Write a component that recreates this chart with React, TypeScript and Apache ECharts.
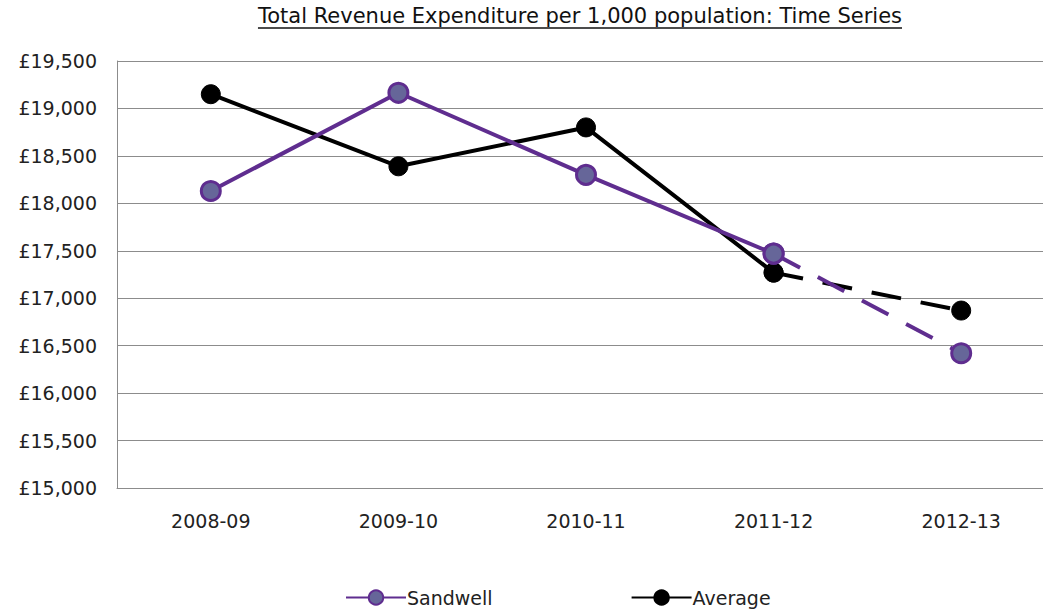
import React, { useEffect, useRef } from "react";
import * as echarts from "echarts";

const categories = ["2008-09", "2009-10", "2010-11", "2011-12", "2012-13"];
const sandwell = [18130, 19165, 18300, 17470, 16420];
const average = [19150, 18390, 18800, 17270, 16870];
const solidCount = 4; // points 0..3 actual, last segment projected (dashed)
const yTicks = { min: 15000, max: 19500, interval: 500 };
const titleText = "Total Revenue Expenditure per 1,000 population: Time Series";

const PURPLE = "#5f2d8f";
const MARKER_FILL = "#666699";
const FONT = "DejaVu Sans";
const CHART_W = 1070;

function solidPart(arr: number[]) {
  return arr.map((v, i) => (i < solidCount ? v : null));
}
function dashedPart(arr: number[]) {
  return arr.map((v, i) => (i >= solidCount - 1 ? v : null));
}

export default function App() {
  const ref = useRef<HTMLDivElement>(null);
  useEffect(() => {
    if (!ref.current) return;
    const chart = echarts.init(ref.current, null, { renderer: "svg" });
    const fmt = (v: number) => "£" + v.toLocaleString("en-GB");
    const common = {
      type: "line",
      symbol: "circle",
      symbolSize: 19,
      connectNulls: false,
    };
    const titleFont = `21px "${FONT}"`;
    const tw = (echarts.format as any).getTextRect?.(titleText, titleFont)?.width;
    const titleWidth = typeof tw === "number" ? tw : 645;
    const cx = 580;
    chart.setOption({
      animation: false,
      backgroundColor: "#ffffff",
      graphic: [
        {
          type: "text",
          x: cx,
          y: 5,
          style: {
            text: titleText,
            font: titleFont,
            fill: "#111",
            align: "center",
            verticalAlign: "top",
          },
        },
        {
          type: "line",
          shape: { x1: cx - titleWidth / 2, y1: 28, x2: cx + titleWidth / 2, y2: 28 },
          style: { stroke: "#111", lineWidth: 1.5 },
        },
      ],
      legend: {
        data: ["Sandwell", "Average"],
        left: 345,
        top: 588,
        padding: 0,
        itemWidth: 60,
        itemHeight: 18,
        itemGap: 138,
        textStyle: { fontFamily: FONT, fontSize: 19, color: "#222", padding: [0, 0, 0, -4] },
      },
      grid: { left: 117, right: CHART_W - 117 - 938, top: 61, bottom: 127, containLabel: false },
      xAxis: {
        type: "category",
        data: categories,
        boundaryGap: true,
        axisLine: { show: true, lineStyle: { color: "#8c8c8c", width: 1 } },
        axisTick: { show: false },
        axisLabel: { fontFamily: FONT, fontSize: 19, color: "#222", margin: 23 },
      },
      yAxis: {
        type: "value",
        min: yTicks.min,
        max: yTicks.max,
        interval: yTicks.interval,
        axisLine: { show: true, lineStyle: { color: "#8c8c8c", width: 1 } },
        axisTick: { show: false },
        splitLine: { show: true, lineStyle: { color: "#8c8c8c", width: 1 } },
        axisLabel: { fontFamily: FONT, fontSize: 19, color: "#222", margin: 20, formatter: fmt },
      },
      series: [
        {
          ...common,
          name: "Average",
          data: solidPart(average),
          lineStyle: { color: "#000", width: 4 },
          itemStyle: { color: "#000", borderColor: "#000", borderWidth: 1 },
          z: 2,
        },
        {
          ...common,
          name: "Average projected",
          data: dashedPart(average),
          lineStyle: { color: "#000", width: 4, type: [30, 20] },
          itemStyle: { color: "#000", borderColor: "#000", borderWidth: 1 },
          z: 2,
        },
        {
          ...common,
          name: "Sandwell",
          data: solidPart(sandwell),
          lineStyle: { color: PURPLE, width: 4 },
          itemStyle: { color: MARKER_FILL, borderColor: PURPLE, borderWidth: 3 },
          z: 3,
        },
        {
          ...common,
          name: "Sandwell projected",
          data: dashedPart(sandwell),
          lineStyle: { color: PURPLE, width: 4, type: [30, 20] },
          itemStyle: { color: MARKER_FILL, borderColor: PURPLE, borderWidth: 3 },
          z: 3,
        },
      ],
    });
    return () => chart.dispose();
  }, []);
  return (
    <div
      style={{
        position: "absolute",
        left: 0,
        top: 0,
        width: 1043,
        height: 615,
        overflow: "hidden",
        background: "#fff",
      }}
    >
      <div ref={ref} style={{ width: CHART_W, height: 615 }} />
    </div>
  );
}
